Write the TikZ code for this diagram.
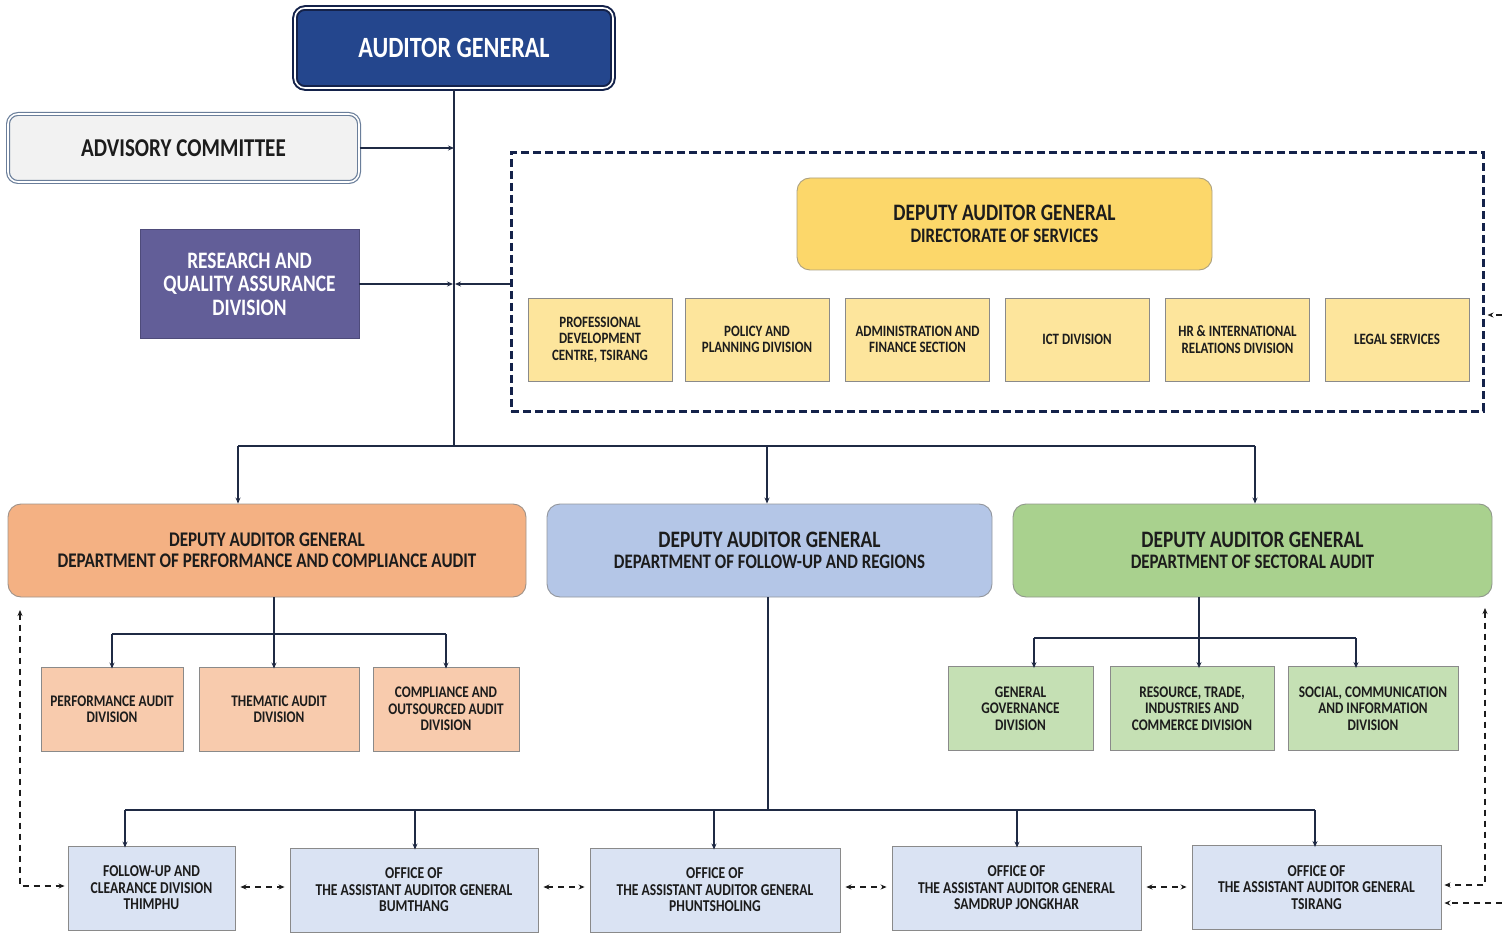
\documentclass[tikz,border=0pt]{standalone}
\usepackage{fontspec}
\setmainfont{Carlito}[FakeStretch=0.82]
\usetikzlibrary{arrows.meta}

\definecolor{ink}{HTML}{1C1C1C}
\definecolor{wire}{HTML}{1F2A44}
\definecolor{navy}{HTML}{14224A}
\definecolor{agfill}{HTML}{24468D}
\definecolor{advfill}{HTML}{F2F2F2}
\definecolor{advline}{HTML}{6A7E9A}
\definecolor{rqafill}{HTML}{625E98}
\definecolor{dosfill}{HTML}{FCD76A}
\definecolor{unitfill}{HTML}{FDE59C}
\definecolor{pcafill}{HTML}{F4B183}
\definecolor{pcasub}{HTML}{F8CBAD}
\definecolor{furfill}{HTML}{B4C6E7}
\definecolor{fursub}{HTML}{DAE3F3}
\definecolor{secfill}{HTML}{A9D18E}
\definecolor{secsub}{HTML}{C5E0B4}
\definecolor{boxline}{HTML}{8A8A8A}

\newcommand{\headA}{\fontsize{23.6}{21}\selectfont}

\tikzset{
  base/.style={inner sep=0pt, align=center, text=ink},
  agbox/.style={base, rounded corners=10pt, fill=agfill, draw=navy, line width=2pt,
    double=white, double distance=1.6pt, text=white,
    font=\bfseries\fontsize{29.4}{30}\selectfont},
  advbox/.style={base, rounded corners=10pt, fill=advfill, draw=advline, line width=1.2pt,
    double=white, double distance=1.6pt, font=\bfseries\fontsize{25.7}{26}\selectfont},
  rqabox/.style={base, fill=rqafill, draw=rqafill!80!black, line width=0.8pt, text=white,
    font=\bfseries\fontsize{23.6}{23.5}\selectfont},
  headbox/.style={base, rounded corners=13pt, line width=0.9pt,
    minimum height=93pt, font=\bfseries\fontsize{20.6}{21.5}\selectfont},
  unitbox/.style={base, fill=unitfill, draw=boxline, line width=0.9pt,
    minimum width=144pt, minimum height=83pt, font=\bfseries\fontsize{15.8}{16.5}\selectfont},
  subbox/.style={base, draw=boxline, line width=0.9pt, minimum height=84pt,
    font=\bfseries\fontsize{16.2}{16.3}\selectfont},
  regbox/.style={subbox, fill=fursub, font=\bfseries\fontsize{16.6}{16.5}\selectfont},
  conn/.style={draw=wire, line width=1.8pt},
  arr/.style={conn, -{Stealth[length=6pt,width=5pt]}},
  dlink/.style={draw=ink, line width=1.8pt, dash pattern=on 6pt off 5pt},
  dhead/.style={dlink, -{Stealth[length=6pt,width=5pt]}},
  dboth/.style={dlink, {Stealth[length=6pt,width=5pt]}-{Stealth[length=6pt,width=5pt]},
    shorten <=5pt, shorten >=5pt},
}

\begin{document}
\begin{tikzpicture}[x=1pt,y=-1pt]
\useasboundingbox (0,0) rectangle (1502,933);

% top of the chart
\node[agbox, minimum width=318pt, minimum height=80pt] (ag) at (454,48) {AUDITOR GENERAL};
\node[advbox, minimum width=351pt, minimum height=68pt] (adv) at (183.5,148) {ADVISORY COMMITTEE};
\node[rqabox, minimum width=219pt, minimum height=109pt] (rqa) at (249.5,284)
  {RESEARCH AND\\QUALITY ASSURANCE\\DIVISION};

% directorate of services
\node[draw=navy, line width=3pt, dash pattern=on 8pt off 4pt, minimum width=972pt,
  minimum height=258pt, inner sep=0pt] (dos) at (997,282) {};
\node[headbox, fill=dosfill, draw=boxline!70!dosfill, minimum width=415pt, minimum height=92pt]
  (dosh) at (1004.5,224)
  {{\headA DEPUTY AUDITOR GENERAL}\\DIRECTORATE OF SERVICES};
\node[unitbox] (u1) at (600,339.5) {PROFESSIONAL\\DEVELOPMENT\\CENTRE, TSIRANG};
\node[unitbox] (u2) at (757,339.5) {POLICY AND\\PLANNING DIVISION};
\node[unitbox] (u3) at (917.5,339.5) {ADMINISTRATION AND\\FINANCE SECTION};
\node[unitbox] (u4) at (1077,339.5) {ICT DIVISION};
\node[unitbox] (u5) at (1237.5,339.5) {HR \& INTERNATIONAL\\RELATIONS DIVISION};
\node[unitbox] (u6) at (1397,339.5) {LEGAL SERVICES};

% the three departments
\node[headbox, fill=pcafill, draw=boxline!80!pcafill, minimum width=518pt,
  font=\bfseries\fontsize{20.8}{21.5}\selectfont]
  (pca) at (267,550.5)
  {DEPUTY AUDITOR GENERAL\\DEPARTMENT OF PERFORMANCE AND COMPLIANCE AUDIT};
\node[headbox, fill=furfill, draw=boxline!80!furfill, minimum width=445pt]
  (fur) at (769.5,550.5)
  {{\headA DEPUTY AUDITOR GENERAL}\\DEPARTMENT OF FOLLOW-UP AND REGIONS};
\node[headbox, fill=secfill, draw=boxline!80!secfill, minimum width=479pt]
  (sec) at (1252.5,550.5)
  {{\headA DEPUTY AUDITOR GENERAL}\\DEPARTMENT OF SECTORAL AUDIT};

% performance and compliance audit divisions
\node[subbox, fill=pcasub, minimum width=142pt] (p1) at (112,709) {PERFORMANCE AUDIT\\DIVISION};
\node[subbox, fill=pcasub, minimum width=160pt] (p2) at (279,709) {THEMATIC AUDIT\\DIVISION};
\node[subbox, fill=pcasub, minimum width=146pt] (p3) at (446,709) {COMPLIANCE AND\\OUTSOURCED AUDIT\\DIVISION};

% sectoral audit divisions
\node[subbox, fill=secsub, minimum width=145pt] (s1) at (1020.5,708.5) {GENERAL\\GOVERNANCE\\DIVISION};
\node[subbox, fill=secsub, minimum width=164pt] (s2) at (1192,708.5) {RESOURCE, TRADE,\\INDUSTRIES AND\\COMMERCE DIVISION};
\node[subbox, fill=secsub, minimum width=170pt] (s3) at (1373,708.5) {SOCIAL, COMMUNICATION\\AND INFORMATION\\DIVISION};

% regional offices
\node[regbox, minimum width=167pt] (r1) at (151.5,888) {FOLLOW-UP AND\\CLEARANCE DIVISION\\THIMPHU};
\node[regbox, minimum width=248pt] (r2) at (414,890) {OFFICE OF\\THE ASSISTANT AUDITOR GENERAL\\BUMTHANG};
\node[regbox, minimum width=250pt] (r3) at (715,890) {OFFICE OF\\THE ASSISTANT AUDITOR GENERAL\\PHUNTSHOLING};
\node[regbox, minimum width=249pt] (r4) at (1016.5,888) {OFFICE OF\\THE ASSISTANT AUDITOR GENERAL\\SAMDRUP JONGKHAR};
\node[regbox, minimum width=249pt] (r5) at (1316.5,887.5) {OFFICE OF\\THE ASSISTANT AUDITOR GENERAL\\TSIRANG};

% main spine and bus
\coordinate (spine) at (454,446);
\coordinate (busL) at (238,446);
\coordinate (busM) at (767,446);
\coordinate (busR) at (1255,446);
\draw[conn] (ag.south) -- (spine);
\draw[conn] (busL) -- (busR);
\draw[arr] (busL) -- (busL |- pca.north);
\draw[arr] (busM) -- (busM |- fur.north);
\draw[arr] (busR) -- (busR |- sec.north);

\draw[arr] (adv.east) -- (adv.east -| spine);
\draw[arr] (rqa.east) -- ([xshift=-1pt]rqa.east -| spine);
\draw[arr] (dos.west |- rqa.east) -- ([xshift=1pt]rqa.east -| spine);

% performance and compliance audit branch
\coordinate (pbus) at (274,634);
\draw[conn] (pbus |- pca.south) -- (pbus);
\draw[conn] (p1.north |- pbus) -- (p3.north |- pbus);
\draw[arr] (p1.north |- pbus) -- ([yshift=-2pt]p1.north);
\draw[arr] (pbus) -- ([yshift=-2pt]p2.north -| pbus);
\draw[arr] (p3.north |- pbus) -- ([yshift=-2pt]p3.north);

% sectoral audit branch
\coordinate (sbus) at (1199,638);
\coordinate (sL) at (1034,638);
\coordinate (sR) at (1356,638);
\draw[conn] (sbus |- sec.south) -- (sbus);
\draw[conn] (sL) -- (sR);
\draw[arr] (sL) -- ([yshift=-2pt]sL |- s1.north);
\draw[arr] (sbus) -- ([yshift=-2pt]sbus |- s2.north);
\draw[arr] (sR) -- ([yshift=-2pt]sR |- s3.north);

% follow-up and regions branch
\coordinate (fbus) at (768,810);
\draw[conn] (fbus |- fur.south) -- (fbus);
\coordinate (f1) at (125,810);
\coordinate (f2) at (415,810);
\coordinate (f3) at (714,810);
\coordinate (f4) at (1017,810);
\coordinate (f5) at (1315,810);
\draw[conn] (f1) -- (f5);
\draw[arr] (f1) -- ([yshift=-2pt]f1 |- r1.north);
\draw[arr] (f2) -- ([yshift=-2pt]f2 |- r2.north);
\draw[arr] (f3) -- ([yshift=-2pt]f3 |- r3.north);
\draw[arr] (f4) -- ([yshift=-2pt]f4 |- r4.north);
\draw[arr] (f5) -- ([yshift=-2pt]f5 |- r5.north);

% links between regional offices
\draw[dboth] (r1.east |- 0,887) -- (r2.west |- 0,887);
\draw[dboth] (r2.east |- 0,887) -- (r3.west |- 0,887);
\draw[dboth] (r3.east |- 0,887) -- (r4.west |- 0,887);
\draw[dboth] (r4.east |- 0,887) -- (r5.west |- 0,887);

% reporting loops at the sides
\coordinate (lt) at (20,610);
\coordinate (lb) at (20,886);
\draw[dlink, {Stealth[length=6pt,width=5pt]}-{Stealth[length=6pt,width=5pt]}, shorten >=3pt]
  (lt) -- (lb) -- (r1.west |- lb);
\coordinate (rt) at (1485,608);
\coordinate (rb) at (1485,885);
\draw[dlink, {Stealth[length=6pt,width=5pt]}-{Stealth[length=6pt,width=5pt]}, shorten >=3pt]
  (rt) -- (rb) -- (r5.east |- rb);
\coordinate (edgeLow) at (1502,903);
\draw[dhead, shorten >=3pt] (edgeLow) -- (r5.east |- edgeLow);
\coordinate (edgeTop) at (1502,315);
\draw[dhead, shorten >=3pt] (edgeTop) -- (dos.east |- edgeTop);
\end{tikzpicture}
\end{document}
